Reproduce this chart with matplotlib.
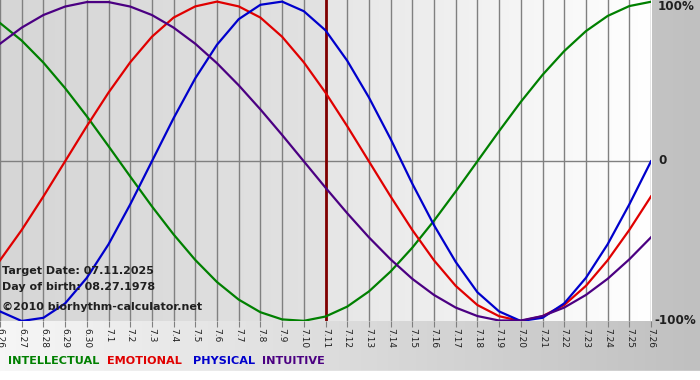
import numpy as np
import matplotlib.pyplot as plt

# day labels, 06.26 .. 07.26
days = ["6.26", "6.27", "6.28", "6.29", "6.30", "7.1", "7.2", "7.3", "7.4", "7.5",
        "7.6", "7.7", "7.8", "7.9", "7.10", "7.11", "7.12", "7.13", "7.14", "7.15",
        "7.16", "7.17", "7.18", "7.19", "7.20", "7.21", "7.22", "7.23", "7.24", "7.25", "7.26"]

# daily values (-1 .. 1)
physical = [-0.94, -1.00, -0.98, -0.89, -0.73, -0.52, -0.27, 0.00, 0.27, 0.52,
            0.73, 0.89, 0.98, 1.00, 0.94, 0.82, 0.63, 0.40, 0.14, -0.14,
            -0.40, -0.63, -0.82, -0.94, -1.00, -0.98, -0.89, -0.73, -0.52, -0.27, 0.00]
emotional = [-0.62, -0.43, -0.22, 0.00, 0.22, 0.43, 0.62, 0.78, 0.90, 0.97,
             1.00, 0.97, 0.90, 0.78, 0.62, 0.43, 0.22, 0.00, -0.22, -0.43,
             -0.62, -0.78, -0.90, -0.97, -1.00, -0.97, -0.90, -0.78, -0.62, -0.43, -0.22]
intellectual = [0.866, 0.756, 0.618, 0.458, 0.282, 0.095, -0.095, -0.282, -0.458, -0.618,
                -0.756, -0.866, -0.945, -0.990, -0.999, -0.972, -0.910, -0.815, -0.690, -0.541,
                -0.372, -0.189, 0.000, 0.189, 0.372, 0.541, 0.690, 0.815, 0.910, 0.972, 0.999]
intuitive = [0.736, 0.837, 0.916, 0.969, 0.997, 0.997, 0.969, 0.916, 0.837, 0.736,
             0.614, 0.476, 0.325, 0.165, 0.000, -0.165, -0.325, -0.476, -0.614, -0.736,
             -0.837, -0.916, -0.969, -0.997, -0.997, -0.969, -0.916, -0.837, -0.736, -0.614, -0.476]

target_idx = 15
W, H = 700, 380


def hgrad(c0, c1, n=128):
    # horizontal grey ramp as an RGB image
    v = np.linspace(c0, c1, n) / 255.0
    return np.repeat(v[None, :, None], 3, axis=2)


fig = plt.figure(figsize=(7, 3.8), dpi=100)

# figure background gradient
bg = fig.add_axes([0, 0, 1, 1], zorder=-10)
bg.imshow(hgrad(246, 192), aspect='auto', extent=[0, 1, 0, 1])
bg.axhspan(0, 9 / H, color='white')
bg.set_xlim(0, 1)
bg.set_ylim(0, 1)
bg.axis('off')

ax = fig.add_axes([0, 1 - 321 / H, 651 / W, 321 / H])
x = np.arange(len(days))

# plot background: grey before target date, fading to white after
ax.imshow(hgrad(214, 226), aspect='auto', extent=[0, target_idx, -1, 1.01], zorder=0)
ax.imshow(hgrad(230, 255), aspect='auto', extent=[target_idx, 30, -1, 1.01], zorder=0)

for xi in x:
    ax.axvline(xi, color='#808080', lw=1, zorder=1)
ax.axhline(0, color='#808080', lw=1, zorder=1)
ax.axvline(target_idx, color='#800000', lw=2, zorder=2)

ax.plot(x, intellectual, color='#008000', lw=1.6, zorder=3)
ax.plot(x, emotional, color='#e00000', lw=1.6, zorder=3)
ax.plot(x, physical, color='#0000cc', lw=1.6, zorder=3)
ax.plot(x, intuitive, color='#4b0082', lw=1.6, zorder=3)

ax.set_xlim(0, 30)
ax.set_ylim(-1, 1.01)
ax.set_xticks(x)
ax.set_xticklabels(days, rotation=270, fontsize=6.5, color='#202020')
ax.tick_params(axis='x', direction='out', length=4, color='#808080', pad=1)
ax.set_yticks([])
for s in ax.spines.values():
    s.set_visible(False)

# right axis labels
fig.text(658 / W, 1 - 6 / H, "100%", fontsize=8.6, fontweight='bold', va='center', color='#202020')
fig.text(658 / W, 1 - 161 / H, "0", fontsize=8.6, fontweight='bold', va='center', color='#202020')
fig.text(654 / W, 1 - 321 / H, "-100%", fontsize=8.6, fontweight='bold', va='center', color='#202020')

# overlay info text
fig.text(2 / W, 1 - 271 / H, "Target Date: 07.11.2025", fontsize=8, fontweight='bold',
         va='center', color='#202020')
fig.text(2 / W, 1 - 287 / H, "Day of birth: 08.27.1978", fontsize=8, fontweight='bold',
         va='center', color='#202020')
fig.text(2 / W, 1 - 307 / H, "\u00a92010 biorhythm-calculator.net", fontsize=8,
         fontweight='bold', va='center', color='#202020')

# legend
leg = [("INTELLECTUAL", 8, '#008000'), ("EMOTIONAL", 107, '#e00000'),
       ("PHYSICAL", 193, '#0000cc'), ("INTUITIVE", 262, '#4b0082')]
for name, px, col in leg:
    fig.text(px / W, 1 - 361 / H, name, fontsize=8.1, fontweight='bold', va='center', color=col)

fig.savefig("out.png", dpi=100)
